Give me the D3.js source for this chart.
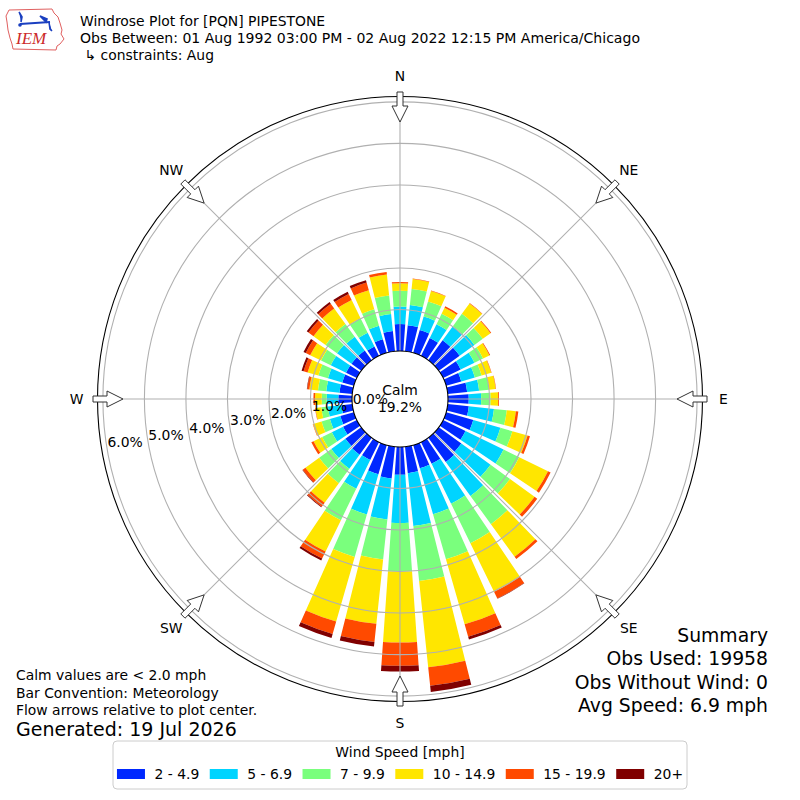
<!DOCTYPE html>
<html><head><meta charset="utf-8">
<script src="https://cdn.jsdelivr.net/npm/d3@7"></script>
<style>
body{margin:0;background:#fff;}
svg{display:block;font-family:"DejaVu Sans",sans-serif;}
</style></head><body>
<svg id="chart" width="800" height="800"></svg>
<script>
// ---------------- data ----------------
const directions = [0,10,20,30,40,50,60,70,80,90,100,110,120,130,140,150,160,170,
                    180,190,200,210,220,230,240,250,260,270,280,290,300,310,320,330,340,350];
const speedBins = ["2 - 4.9","5 - 6.9","7 - 9.9","10 - 14.9","15 - 19.9","20+"];
const binColors = ["#0028ff","#00d4ff","#7aff7d","#ffe600","#ff4a00","#800000"];
// percent frequency per direction, one array per speed bin
const freq2to5   = [0.65,0.63,0.57,0.48,0.59,0.62,0.47,0.38,0.47,0.50,0.51,0.68,0.60,0.67,0.72,0.58,0.58,0.64,
                    0.67,0.77,0.73,0.48,0.50,0.47,0.37,0.34,0.26,0.33,0.31,0.29,0.29,0.29,0.29,0.25,0.34,0.49];
const freq5to7   = [0.42,0.49,0.34,0.37,0.42,0.44,0.37,0.34,0.29,0.30,0.61,0.68,1.02,0.87,1.01,1.07,1.15,1.28,
                    1.16,0.99,1.01,0.77,0.42,0.42,0.30,0.26,0.33,0.28,0.32,0.36,0.41,0.43,0.41,0.37,0.34,0.41];
const freq7to10  = [0.38,0.39,0.38,0.28,0.37,0.25,0.23,0.17,0.24,0.23,0.31,0.30,0.42,0.58,0.84,1.06,1.13,1.33,
                    1.17,0.97,1.06,0.84,0.43,0.36,0.26,0.21,0.16,0.12,0.20,0.24,0.26,0.34,0.38,0.39,0.41,0.45];
const freq10to15 = [0.18,0.24,0.26,0.16,0.31,0.23,0.17,0.24,0.16,0.18,0.22,0.38,0.77,0.73,0.97,1.30,1.63,2.09,
                    1.71,1.56,1.62,0.84,0.58,0.41,0.23,0.21,0.14,0.16,0.21,0.27,0.29,0.36,0.46,0.49,0.48,0.51];
const freq15to20 = [0.03,0.01,0.01,0.04,0.01,0.02,0.02,0.01,0.01,0.02,0.06,0.06,0.07,0.08,0.07,0.18,0.31,0.45,
                    0.56,0.44,0.31,0.19,0.12,0.08,0.06,0.01,0.01,0.04,0.05,0.10,0.12,0.15,0.14,0.16,0.19,0.06];
const freq20plus = [0.00,0.00,0.00,0.00,0.00,0.00,0.00,0.00,0.00,0.00,0.00,0.00,0.00,0.00,0.00,0.01,0.07,0.15,
                    0.14,0.11,0.10,0.05,0.02,0.01,0.00,0.00,0.00,0.00,0.01,0.05,0.06,0.05,0.05,0.06,0.06,0.00];
const rTicks = [0,1,2,3,4,5,6];
const compassLabels = ["N","NE","E","SE","S","SW","W","NW"];
const compassAngles = [0,45,90,135,180,225,270,315];
const calmPct = 19.2;
const titleLines = ["Windrose Plot for [PQN] PIPESTONE",
  "Obs Between: 01 Aug 1992 03:00 PM - 02 Aug 2022 12:15 PM America/Chicago",
  "\u21b3 constraints: Aug"];
const noteLines = ["Calm values are < 2.0 mph","Bar Convention: Meteorology","Flow arrows relative to plot center."];
const generatedText = "Generated: 19 Jul 2026";
const summaryLines = ["Summary","Obs Used: 19958","Obs Without Wind: 0","Avg Speed: 6.9 mph"];
const legendTitle = "Wind Speed [mph]";

// ---------------- drawing ----------------
const svg = d3.select("#chart");
const cx = 400, cy = 399;
const rScale = d3.scaleLinear().domain([0, 6.13]).range([48, 302.5]);
const rad = d => d * Math.PI / 180;
const series = [freq2to5, freq5to7, freq7to10, freq10to15, freq15to20, freq20plus];

const plot = svg.append("g").attr("transform", `translate(${cx},${cy})`);

// bars
const stacked = [];
directions.forEach((d, i) => {
  let acc = 0;
  series.forEach((s, k) => {
    const y0 = acc; acc += s[i];
    if (s[i] > 0) stacked.push({dir: d, k, y0, y1: acc});
  });
});
const halfW = rad(4);
const arc = d3.arc();
plot.append("g").selectAll("path").data(stacked).join("path")
  .attr("d", s => arc({innerRadius: rScale(s.y0), outerRadius: rScale(s.y1),
                       startAngle: rad(s.dir) - halfW, endAngle: rad(s.dir) + halfW}))
  .attr("fill", s => binColors[s.k]);

// grid
const grid = plot.append("g").attr("fill", "none").attr("stroke", "#b0b0b0").attr("stroke-width", 1.1);
grid.selectAll("circle").data(rTicks.slice(1)).join("circle").attr("r", t => rScale(t));
grid.selectAll("line").data(compassAngles).join("line")
  .attr("x1", a => rScale(0) * Math.sin(rad(a))).attr("y1", a => -rScale(0) * Math.cos(rad(a)))
  .attr("x2", a => rScale.range()[1] * Math.sin(rad(a))).attr("y2", a => -rScale.range()[1] * Math.cos(rad(a)));

// outer frame
plot.append("circle").attr("r", rScale.range()[1]).attr("fill", "none").attr("stroke", "#000").attr("stroke-width", 1.1);

// calm circle
plot.append("circle").attr("r", rScale(0)).attr("fill", "#fff").attr("stroke", "#000").attr("stroke-width", 1.1);
plot.append("text").attr("x", 0).attr("y", -4).attr("text-anchor", "middle").attr("font-size", 13.9).text("Calm");
plot.append("text").attr("x", 0).attr("y", 13).attr("text-anchor", "middle").attr("font-size", 13.9).text(calmPct.toFixed(1) + "%");

// radial tick labels
plot.append("g").selectAll("text").data(rTicks).join("text")
  .attr("x", t => -rScale(t) * Math.cos(rad(10)))
  .attr("y", t => rScale(t) * Math.sin(rad(10)) - 3.5)
  .attr("font-size", 13.9)
  .text(t => t.toFixed(1) + "%");

// arrows
const arrowPts = [[307,-3],[293,-3],[293,-8],[277,0],[293,8],[293,3],[307,3]];
plot.append("g").selectAll("path").data(compassAngles).join("path")
  .attr("d", a => {
    const s = Math.sin(rad(a)), c = Math.cos(rad(a));
    return "M" + arrowPts.map(([p, w]) => [p * s + w * c, -p * c + w * s].map(v => v.toFixed(2)).join(",")).join("L") + "Z";
  })
  .attr("fill", "#fff").attr("stroke", "#333").attr("stroke-width", 1);

// compass labels
plot.append("g").selectAll("text").data(compassLabels).join("text")
  .attr("x", (l, i) => 323.5 * Math.sin(rad(compassAngles[i])))
  .attr("y", (l, i) => -323.5 * Math.cos(rad(compassAngles[i])))
  .attr("text-anchor", "middle").attr("dominant-baseline", "central")
  .attr("font-size", 13.9).text(l => l);

// header
const hdr = svg.append("g").attr("font-size", 13.9);
hdr.append("text").attr("x", 80).attr("y", 26).text(titleLines[0]);
hdr.append("text").attr("x", 80).attr("y", 43).attr("font-size", 14.05).text(titleLines[1]);
hdr.append("text").attr("x", 84.5).attr("y", 59.5).text(titleLines[2]);

// logo
const logo = svg.append("g");
logo.append("path")
  .attr("d", "M9,10 L52,9 L54,13 L58,17 L60,23 L62,30 L61,34 L64,39 L60,44 L57,46 L56,50 L13,49 L12,44 L10,38 L8,30 L7,22 L6,16 Z")
  .attr("fill", "none").attr("stroke", "#e06060").attr("stroke-width", 1);
logo.append("path").attr("d", "M20,24 L50,22").attr("stroke", "#1a3fc0").attr("stroke-width", 2.2).attr("fill", "none");
logo.append("path").attr("d", "M19,12 L22,17 L21,22 M40,16 L47,19 L46,22 Z M49,22 L50,29 L52,31")
  .attr("stroke", "#1a3fc0").attr("stroke-width", 1.6).attr("fill", "#1a3fc0");
logo.append("circle").attr("cx", 20).attr("cy", 25).attr("r", 1.8).attr("fill", "#1a3fc0");
logo.append("text").attr("x", 16).attr("y", 44).attr("font-family", "Liberation Serif, serif")
  .attr("font-style", "italic").attr("font-size", 17).attr("fill", "#cc2a2a").text("IEM");

// notes bottom-left
const notes = svg.append("g").attr("font-size", 13.9);
noteLines.forEach((t, i) => notes.append("text").attr("x", 16).attr("y", 680 + i * 17.5).text(t));
svg.append("text").attr("x", 16).attr("y", 736).attr("font-size", 19).text(generatedText);

// summary bottom-right
const summ = svg.append("g").attr("font-size", 18.8).attr("text-anchor", "end");
summaryLines.forEach((t, i) => summ.append("text").attr("x", 768).attr("y", 642 + i * 23.3).text(t));

// legend
const leg = svg.append("g");
leg.append("rect").attr("x", 113).attr("y", 741).attr("width", 574).attr("height", 48)
  .attr("rx", 4).attr("fill", "#fff").attr("stroke", "#cccccc").attr("stroke-width", 1);
leg.append("text").attr("x", 400).attr("y", 757).attr("text-anchor", "middle").attr("font-size", 13.9).text(legendTitle);
const items = leg.append("g");
let cursor = 0;
speedBins.forEach((lab, k) => {
  const it = items.append("g").attr("transform", `translate(${cursor},0)`);
  it.append("rect").attr("x", 0).attr("y", 769).attr("width", 28).attr("height", 10).attr("fill", binColors[k]);
  const tx = it.append("text").attr("x", 37.5).attr("y", 779).attr("font-size", 13.9).text(lab);
  cursor += 37.5 + tx.node().getComputedTextLength() + 10.5;
});
const totalW = cursor - 10.5;
items.attr("transform", `translate(${400 - totalW / 2},0)`);
</script>
</body></html>
